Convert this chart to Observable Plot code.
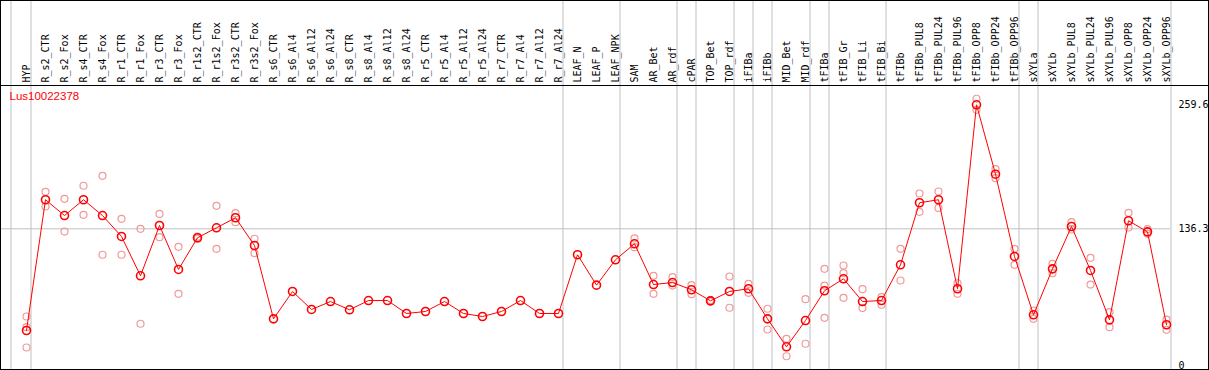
<!DOCTYPE html>
<html>
<head>
<meta charset="utf-8">
<script src="https://cdn.jsdelivr.net/npm/d3@7"></script>
<script src="https://cdn.jsdelivr.net/npm/@observablehq/plot@0.6"></script>
<style>
  html, body { margin: 0; padding: 0; background: #fff; }
  #chart svg { display: block; }
</style>
</head>
<body>
<div id="chart"></div>
<script>
const title = "Lus10022378";

const labels = [
  "HYP","R_s2_CTR","R_s2_Fox","R_s4_CTR","R_s4_Fox","R_r1_CTR","R_r1_Fox","R_r3_CTR","R_r3_Fox",
  "R_r1s2_CTR","R_r1s2_Fox","R_r3s2_CTR","R_r3s2_Fox","R_s6_CTR","R_s6_Al4","R_s6_Al12","R_s6_Al24",
  "R_s8_CTR","R_s8_Al4","R_s8_Al12","R_s8_Al24","R_r5_CTR","R_r5_Al4","R_r5_Al12","R_r5_Al24",
  "R_r7_CTR","R_r7_Al4","R_r7_Al12","R_r7_Al24","LEAF_N","LEAF_P","LEAF_NPK","SAM","AR_Bet","AR_rdf",
  "cPAR","TOP_Bet","TOP_rdf","iFIBa","iFIBb","MID_Bet","MID_rdf","tFIBa","tFIB_Gr","tFIB_Li","tFIB_Bi",
  "tFIBb","tFIBb_PUL8","tFIBb_PUL24","tFIBb_PUL96","tFIBb_OPP8","tFIBb_OPP24","tFIBb_OPP96",
  "sXYLa","sXYLb","sXYLb_PUL8","sXYLb_PUL24","sXYLb_PUL96","sXYLb_OPP8","sXYLb_OPP24","sXYLb_OPP96"
];

const means = [
  35.2,165.2,149.5,165.2,149.5,128.7,89.6,139.6,95.9,
  127.4,137.3,147.3,119.7,46.8,74.0,56.1,64.0,
  55.8,65.0,65.0,52.1,54.1,64.0,52.1,49.1,
  54.1,65.0,52.1,52.1,110.5,80.3,105.5,121.4,80.9,82.9,
  75.7,64.7,74.0,76.7,46.8,19.0,45.1,74.7,86.6,64.0,65.0,
  100.5,162.2,165.2,76.7,259.6,190.6,108.8,
  50.8,96.5,138.6,94.9,45.8,144.3,133.3,40.9
];

const repA = [
  49.1,173.1,166.1,179.1,189.0,146.2,136.3,151.1,118.4,
  128.5,159.2,151.8,126.4,null,null,null,null,
  null,null,null,null,null,null,null,null,
  null,null,null,null,null,null,null,126.7,89.6,88.2,
  80.3,65.5,88.9,81.6,56.8,26.9,66.3,96.5,99.8,76.3,68.3,
  116.4,171.4,173.4,82.2,265.6,195.6,116.4,
  55.1,101.5,142.9,107.5,53.4,152.2,135.9,46.1
];

const repB = [
  18.3,158.5,133.6,150.2,110.5,110.5,41.9,128.0,71.7,
  126.5,116.4,142.9,112.1,null,null,null,null,
  null,null,null,null,null,null,null,null,
  null,null,null,null,null,null,null,118.0,71.7,79.9,
  71.3,64.0,57.8,72.7,36.2,9.6,22.0,47.8,67.7,57.5,60.8,
  84.9,153.2,157.1,71.7,254.6,186.6,100.5,
  46.8,92.2,135.6,80.9,38.5,137.6,131.3,35.9
];

const repC = [
  38.5,null,null,null,null,null,null,null,null,
  null,null,null,null,null,null,null,null,
  null,null,null,null,null,null,null,null,
  null,null,null,null,null,null,null,null,null,null,
  null,null,null,null,null,null,null,79.9,92.2,null,null,
  null,null,null,null,null,null,null,
  null,null,null,null,null,null,null,null
];

const groupEnds = ["HYP","R_r7_Al24","LEAF_NPK","AR_rdf","cPAR","TOP_rdf","iFIBa","iFIBb",
  "MID_rdf","tFIBa","tFIB_Bi","tFIBb_OPP96","sXYLa","sXYLb_OPP96"];
const yTicks = [0, 136.3, 259.6];
const refLine = [136.3];

const rows = labels.map((l, i) => ({label: l, mean: means[i]}));
const reps = [];
labels.forEach((l, i) => {
  [repA[i], repB[i], repC[i]].forEach(v => { if (v != null) reps.push({label: l, value: v}); });
});

const mono = "'DejaVu Sans Mono', monospace";

const chart = Plot.plot({
  width: 1209,
  height: 370,
  marginTop: 0,
  marginLeft: 0,
  marginRight: 39,
  marginBottom: 1,
  style: {fontFamily: mono, fontSize: "10px", background: "#fff", color: "#000"},
  x: {type: "point", domain: labels, range: [26, 1166], padding: 0, axis: null},
  y: {domain: [0, 259.6], range: [365.4, 104.3], axis: null},
  marks: [
    Plot.ruleX([labels[0]], {x: d => d, dx: -15.5, stroke: "#c0c0c0", strokeWidth: 1}),
    Plot.ruleX(groupEnds, {x: d => d, dx: 4.5, stroke: "#c0c0c0", strokeWidth: 1}),
    Plot.ruleY(refLine, {y: d => d, stroke: "#c0c0c0", strokeWidth: 1}),
    Plot.text(labels, {
      x: d => d, frameAnchor: "top", dy: 82, rotate: -90,
      textAnchor: "start", lineAnchor: "middle",
      fontFamily: mono, fontSize: 10, fill: "#000"
    }),
    Plot.dot(reps, {x: "label", y: "value", r: 3.5, stroke: "#f09a9a", strokeWidth: 1.2, fill: "none"}),
    Plot.line(rows, {x: "label", y: "mean", stroke: "#ff0000", strokeWidth: 1}),
    Plot.dot(rows, {x: "label", y: "mean", r: 4, stroke: "#ff0000", strokeWidth: 1.6, fill: "none"}),
    Plot.axisY({
      anchor: "right", ticks: yTicks, tickSize: 0, tickPadding: 8,
      tickFormat: d => String(d), fontFamily: mono, fontSize: 10, fill: "#000"
    }),
    Plot.text([title], {
      frameAnchor: "top-left", dx: 9, dy: 91, text: d => d,
      textAnchor: "start", lineAnchor: "top",
      fill: "#ff0000", fontFamily: "'Liberation Sans', Arial, sans-serif", fontSize: 11.5
    })
  ]
});

document.getElementById("chart").appendChild(chart);

const svg = d3.select(chart);
svg.append("line")
  .attr("x1", 0).attr("x2", 1209).attr("y1", 85.5).attr("y2", 85.5)
  .attr("stroke", "#000").attr("stroke-width", 1);
svg.append("rect")
  .attr("x", 0.5).attr("y", 0.5).attr("width", 1208).attr("height", 369)
  .attr("fill", "none").attr("stroke", "#000").attr("stroke-width", 1);
</script>
</body>
</html>
